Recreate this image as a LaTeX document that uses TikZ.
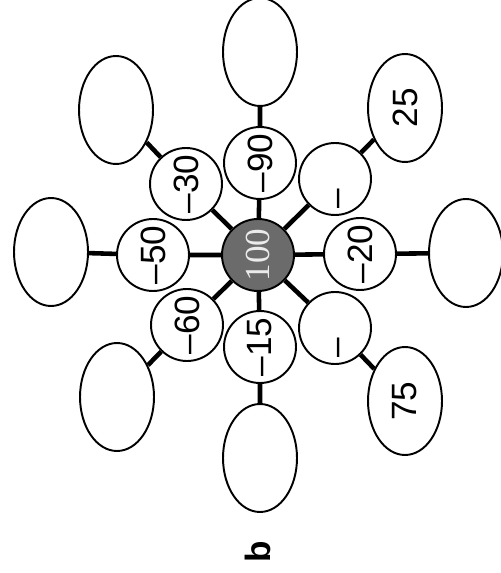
\documentclass[tikz,border=0pt]{standalone}
\usepackage{fontspec}
\setmainfont{Liberation Sans}
\newfontfamily\hubfont{Liberation Serif}
\usetikzlibrary{shapes.geometric}

\begin{document}
\begin{tikzpicture}[x=0.02cm, y=-0.02cm,
        ring/.style={circle, draw, line width=1.1pt, minimum size=1.44cm, inner sep=0pt,
            rotate=90, font=\fontsize{20}{24}\selectfont},
        hub/.style={ring, fill=black!58, text=black!8, font=\hubfont\fontsize{20}{24}\selectfont},
        leaf/.style={ellipse, draw, line width=1.1pt, minimum width=2.16cm, minimum height=1.48cm,
            inner sep=0pt, rotate=90, font=\fontsize{20}{24}\selectfont},
        link/.style={line width=2.6pt}]
            \useasboundingbox (0,0) rectangle (500,573);
            % centre and inner ring
            \node[hub] (hub) at (258,255) {100};
            \node[ring] (in) at (260,163) {--90};
            \node[ring] (ine) at (335,179) {--\phantom{00}};
            \node[ring] (ie) at (360,254) {--20};
            \node[ring] (ise) at (335,328) {--\phantom{00}};
            \node[ring] (is) at (260,347) {--15};
            \node[ring] (isw) at (187,325) {--60};
            \node[ring] (iw) at (153,255) {--50};
            \node[ring] (inw) at (186,184) {--30};
            % outer ring
            \node[leaf] (on) at (260,52) {};
            \node[leaf] (one) at (405,108) {25};
            \node[leaf] (oe) at (466,253) {};
            \node[leaf] (ose) at (405,401) {75};
            \node[leaf] (os) at (260,458) {};
            \node[leaf] (osw) at (117,397) {};
            \node[leaf] (ow) at (51,252) {};
            \node[leaf] (onw) at (116,110) {};
            % spokes
            \draw[link] (hub) -- (in) (hub) -- (ine) (hub) -- (ie) (hub) -- (ise)
                (hub) -- (is) (hub) -- (isw) (hub) -- (iw) (hub) -- (inw);
            \draw[link] (in) -- (on) (ine) -- (one) (ie) -- (oe) (ise) -- (ose)
                (is) -- (os) (isw) -- (osw) (iw) -- (ow) (inw) -- (onw);
            \node[rotate=90, font=\bfseries\fontsize{20}{24}\selectfont] (tag) at (258,552) {b};
        \end{tikzpicture}
\end{document}
